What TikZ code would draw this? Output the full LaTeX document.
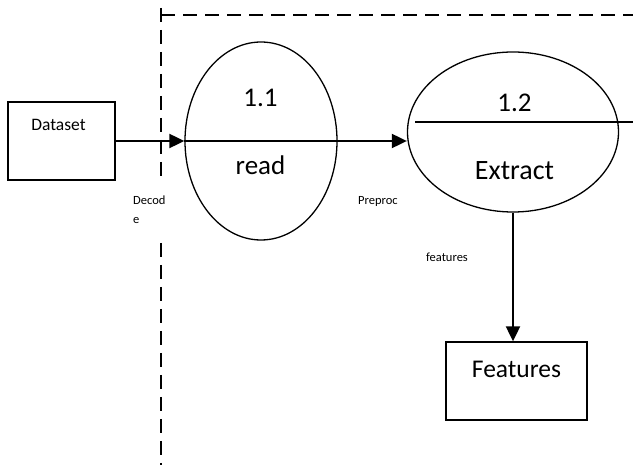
\documentclass[tikz,border=0pt]{standalone}
\usepackage{fontspec}
\setmainfont{Carlito}
\usetikzlibrary{arrows.meta,shapes.geometric}
\begin{document}
\begin{tikzpicture}[x=1pt,y=-1pt,
  proc/.style={draw,ellipse,line width=1.3pt,inner sep=0pt},
  store/.style={draw,rectangle,line width=1.3pt,inner sep=0pt},
  flow/.style={line width=2pt,-{Triangle[length=15pt,width=14pt]}},
  divider/.style={line width=1.5pt},
  boundary/.style={line width=1.8pt,dash pattern=on 14pt off 8pt},
  big/.style={font=\fontsize{27}{30}\selectfont,inner sep=0pt,anchor=base},
  small/.style={font=\fontsize{12.5}{15}\selectfont,inner sep=0pt,anchor=base west}]
\useasboundingbox (0,0) rectangle (633,465);

% system boundary
\coordinate (bcorner) at (161,15);
\coordinate (bright) at (633,15);
\coordinate (bgaptop) at (161,180);
\coordinate (bgapbot) at (161,243);
\coordinate (bbottom) at (161,465);
\draw[boundary] (bcorner) -- (bright);
\draw[boundary] ([yshift=7pt]bcorner) -- (bgaptop);
\draw[boundary] (bgapbot) -- (bbottom);

% external entities and processes
\node[store,minimum width=107pt,minimum height=78pt] (dataset) at (61.5,141) {};
\node[font=\fontsize{17.5}{20}\selectfont,inner sep=0pt,anchor=base] (datasettext) at (58.5,131) {Dataset};

\node[proc,minimum width=152pt,minimum height=198pt] (p11) at (261,141) {};
\node[big] (p11num) at (260.5,107) {1.1};
\node[big] (p11name) at (260.5,175) {read};

\node[proc,minimum width=211pt,minimum height=160pt] (p12) at (513,132) {};
\node[big] (p12num) at (514.5,112) {1.2};
\node[big,font=\fontsize{28}{32}\selectfont] (p12name) at (514.5,180) {Extract};

\node[store,minimum width=141pt,minimum height=78pt] (features) at (516.5,381) {};
\node[font=\fontsize{25.5}{30}\selectfont,inner sep=0pt,anchor=base] (featurestext) at (516.5,378) {Features};

% flow labels
\node[small] (decod) at (133,205) {Decod};
\node[small] (decode) at (133,224) {e};
\node[small] (preproc) at (358,205) {Preproc};
\node[small] (featlbl) at (426,262) {features};

% data flows
\draw[flow] (dataset.east) -- (p11.west);
\draw[divider] (p11.west) -- (p11.east);
\draw[flow] (p11.east) -- (p11.east -| p12.west);
\coordinate (divstart) at (415,122);
\coordinate (divend) at (633,122);
\draw[divider] (divstart) -- (divend);
\draw[flow] (p12.south) -- (p12.south |- features.north);
\end{tikzpicture}
\end{document}
